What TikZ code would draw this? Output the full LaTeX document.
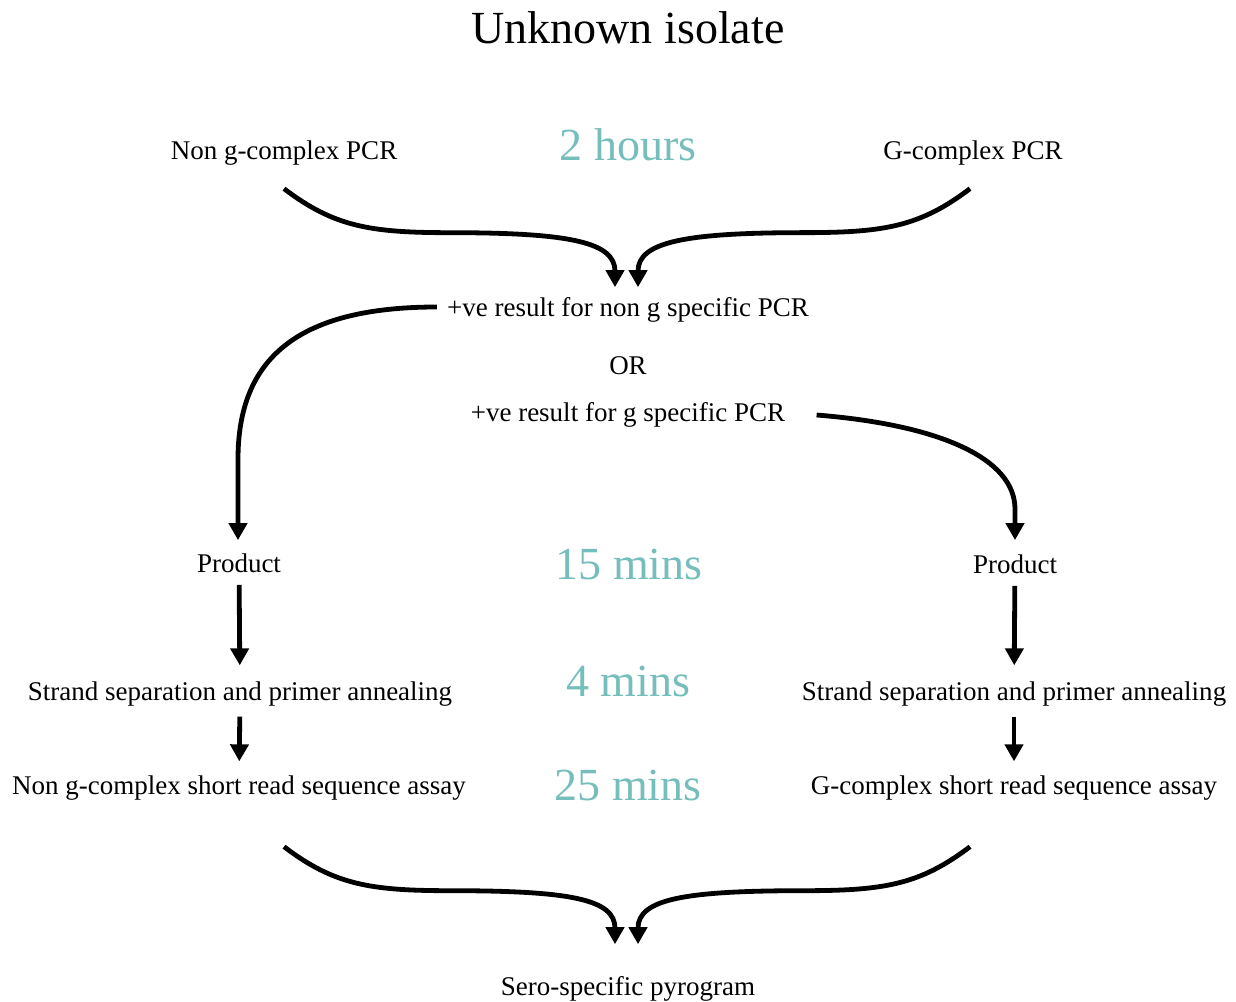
\documentclass[tikz,border=0pt]{standalone}
\usepackage{fontspec}
\setmainfont{Liberation Serif}
\usepackage{xcolor}
\usetikzlibrary{arrows.meta}
\definecolor{timecol}{RGB}{118,190,187}

\begin{document}
\begin{tikzpicture}[x=0.5pt,y=-0.5pt,
    lbl/.style={inner sep=0pt,font=\fontsize{13.5}{16}\selectfont},
    titlelbl/.style={inner sep=0pt,font=\fontsize{23}{27}\selectfont},
    timelbl/.style={inner sep=0pt,text=timecol,font=\fontsize{23}{27}\selectfont},
    flow/.style={line width=2.4pt,-{Triangle[width=9pt,length=8.5pt]}}]
      \useasboundingbox (0,0) rectangle (1236,1001);
      \node[titlelbl] (top) at (628,28) {Unknown isolate};
      \node[lbl] (npcr) at (284,153) {Non g-complex PCR};
      \node[timelbl] (hrs) at (628,145) {2 hours};
      \node[lbl] (gpcr) at (973,153) {G-complex PCR};
      \node[lbl] (resn) at (628,310) {+ve result for non g specific PCR};
      \node[lbl] (or) at (628,366) {OR};
      \node[lbl] (resg) at (628,415) {+ve result for g specific PCR};
      \node[lbl] (prodL) at (239,563) {Product};
      \node[timelbl] (mins15) at (629,564) {15 mins};
      \node[lbl] (prodR) at (1015,564) {Product};
      \node[lbl] (sepL) at (240,694) {Strand separation and primer annealing};
      \node[timelbl] (mins4) at (628,681) {4 mins};
      \node[lbl] (sepR) at (1014,694) {Strand separation and primer annealing};
      \node[lbl] (assL) at (239,788) {Non g-complex short read sequence assay};
      \node[timelbl] (mins25) at (628,785) {25 mins};
      \node[lbl] (assR) at (1014,788) {G-complex short read sequence assay};
      \node[lbl] (pyro) at (628,989) {Sero-specific pyrogram};
      \draw[flow] ([yshift=-11.5pt]npcr.south) .. controls +(50,38) and +(-80,0) .. ++(166,44) .. controls +(120,0) and +(0,-45) .. ([xshift=-6.5pt,yshift=5pt]resn.north);
      \draw[flow] ([xshift=-1.5pt,yshift=-11.5pt]gpcr.south) .. controls +(-50,38) and +(80,0) .. ++(-166,44) .. controls +(-120,0) and +(0,-45) .. ([xshift=5pt,yshift=5pt]resn.north);
      \draw[flow] ([xshift=-5pt,yshift=1.5pt]resn.west) .. controls +(-140,0) and +(0,-100) .. ([xshift=-0.5pt,yshift=47pt]prodL.north) -- ([xshift=-0.5pt,yshift=6.5pt]prodL.north);
      \draw[flow] ([xshift=15.5pt]resg.east) .. controls +(125,10) and +(0,-50) .. ([yshift=22.5pt]prodR.north) -- ([yshift=7pt]prodR.north);
      \draw[flow,shorten <=6pt,shorten >=8pt] (prodL) -- (sepL);
      \draw[flow,shorten <=6pt,shorten >=8pt] (prodR) -- (sepR);
      \draw[flow,shorten <=5pt,shorten >=7pt] (sepL) -- (assL);
      \draw[flow,shorten <=5pt,shorten >=7pt] (sepR) -- (assR);
      \draw[flow] ([xshift=22.5pt,yshift=-23pt]assL.south) .. controls +(50,38) and +(-80,0) .. ++(166,44) .. controls +(120,0) and +(0,-45) .. ([xshift=-6.5pt,yshift=16pt]pyro.north);
      \draw[flow] ([xshift=-22pt,yshift=-23pt]assR.south) .. controls +(-50,38) and +(80,0) .. ++(-166,44) .. controls +(-120,0) and +(0,-45) .. ([xshift=5pt,yshift=16pt]pyro.north);
\end{tikzpicture}
\end{document}
